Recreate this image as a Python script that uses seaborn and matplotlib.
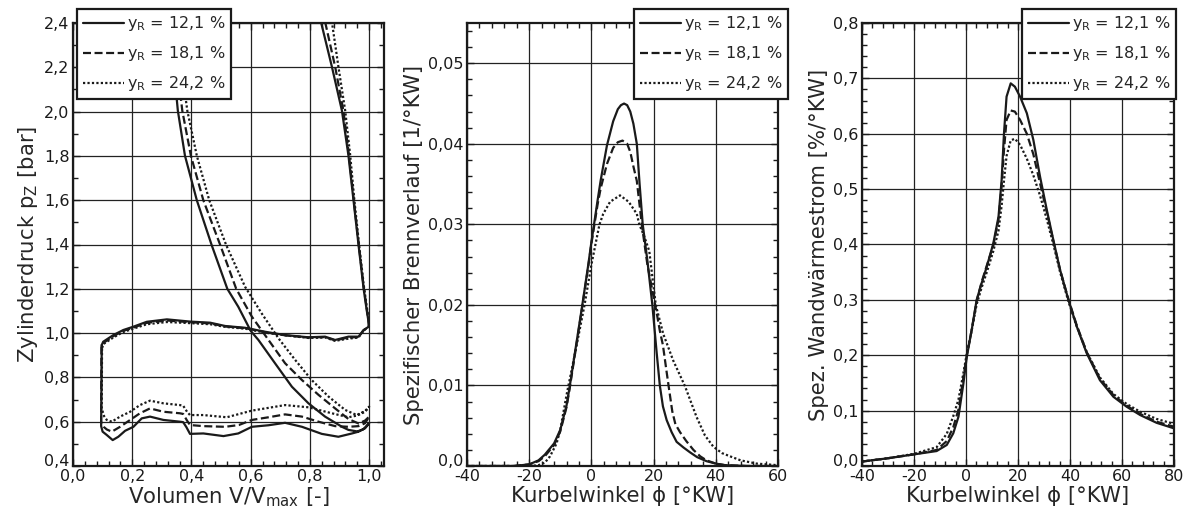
import numpy as np
import pandas as pd
import matplotlib
matplotlib.use("Agg")
import matplotlib.pyplot as plt
from matplotlib.ticker import FixedLocator, MultipleLocator, FixedFormatter
from matplotlib.transforms import ScaledTranslation
import seaborn as sns

sns.set_theme(style="ticks")
plt.rcParams['font.family'] = ['DejaVu Sans']
plt.rcParams['mathtext.default'] = 'regular'

series_labels = ["$y_R$ = 12,1 %", "$y_R$ = 18,1 %", "$y_R$ = 24,2 %"]

# ---------------- Panel 1: p-V diagram ----------------
pv_V_121 = [0.097, 0.095, 0.100, 0.114, 0.134, 0.153, 0.176, 0.204, 0.232, 0.260, 0.305, 0.361, 0.372, 0.383, 0.395,
            0.440, 0.508, 0.558, 0.604, 0.660, 0.716, 0.773, 0.840, 0.896, 0.942, 0.964, 0.986, 1.000,
            0.980, 0.960, 0.930, 0.908, 0.851, 0.795, 0.739, 0.682, 0.626, 0.600, 0.558, 0.521, 0.468, 0.418, 0.378,
            0.354, 0.340, 0.325, 0.310,
            0.820, 0.837, 0.874, 0.908, 0.930, 0.947, 0.964, 0.981, 0.992, 0.998, 0.999,
            0.981, 0.964, 0.930, 0.885, 0.851, 0.795, 0.716, 0.649, 0.581, 0.514, 0.463, 0.395, 0.317, 0.249,
            0.204, 0.170, 0.136, 0.102, 0.097]
pv_p_121 = [0.946, 0.580, 0.555, 0.540, 0.517, 0.532, 0.559, 0.577, 0.615, 0.623, 0.608, 0.600, 0.598, 0.575, 0.545,
            0.547, 0.535, 0.547, 0.577, 0.584, 0.595, 0.577, 0.545, 0.532, 0.547, 0.555, 0.570, 0.593,
            0.566, 0.556, 0.563, 0.577, 0.623, 0.683, 0.758, 0.864, 0.969, 1.010, 1.119, 1.200, 1.398, 1.600, 1.801,
            2.004, 2.200, 2.400, 2.600,
            2.600, 2.406, 2.203, 2.004, 1.801, 1.600, 1.398, 1.202, 1.100, 1.050, 1.029,
            1.014, 0.984, 0.984, 0.969, 0.984, 0.981, 0.991, 1.006, 1.024, 1.032, 1.047, 1.052, 1.062, 1.051,
            1.029, 1.014, 0.991, 0.961, 0.946]

pv_V_181 = [0.096, 0.095, 0.105, 0.114, 0.131, 0.159, 0.193, 0.226, 0.260, 0.305, 0.361, 0.372, 0.385, 0.395,
            0.440, 0.514, 0.560, 0.604, 0.660, 0.716, 0.773, 0.829, 0.885, 0.930, 0.964, 0.986, 1.000,
            0.986, 0.964, 0.930, 0.885, 0.829, 0.773, 0.716, 0.660, 0.604, 0.551, 0.497, 0.440, 0.398, 0.369,
            0.352, 0.338, 0.325,
            0.835, 0.851, 0.885, 0.913, 0.932, 0.948, 0.965, 0.982, 0.993, 0.998, 0.999,
            0.981, 0.964, 0.930, 0.885, 0.851, 0.795, 0.716, 0.649, 0.581, 0.514, 0.463, 0.395, 0.317, 0.249,
            0.204, 0.170, 0.136, 0.102, 0.096]
pv_p_181 = [0.940, 0.600, 0.575, 0.565, 0.555, 0.577, 0.608, 0.638, 0.660, 0.645, 0.638, 0.635, 0.605, 0.585,
            0.580, 0.577, 0.585, 0.608, 0.620, 0.633, 0.623, 0.600, 0.580, 0.577, 0.580, 0.593, 0.623,
            0.605, 0.592, 0.612, 0.660, 0.721, 0.788, 0.864, 0.969, 1.074, 1.200, 1.398, 1.600, 1.801, 2.004,
            2.200, 2.400, 2.600,
            2.600, 2.406, 2.203, 2.004, 1.801, 1.600, 1.398, 1.202, 1.100, 1.050, 1.029,
            1.012, 0.982, 0.980, 0.967, 0.982, 0.980, 0.990, 1.004, 1.022, 1.030, 1.044, 1.049, 1.057, 1.046,
            1.025, 1.010, 0.986, 0.955, 0.940]

pv_V_242 = [0.098, 0.097, 0.105, 0.114, 0.131, 0.159, 0.193, 0.226, 0.260, 0.305, 0.361, 0.372, 0.385, 0.395,
            0.440, 0.519, 0.604, 0.716, 0.795, 0.874, 0.930, 0.960, 0.986, 1.000,
            0.986, 0.958, 0.919, 0.863, 0.806, 0.750, 0.694, 0.637, 0.581, 0.517, 0.460, 0.418, 0.386,
            0.366, 0.350, 0.336,
            0.855, 0.874, 0.896, 0.919, 0.936, 0.950, 0.966, 0.983, 0.994, 0.999, 0.999,
            0.980, 0.964, 0.930, 0.885, 0.851, 0.795, 0.716, 0.649, 0.581, 0.514, 0.463, 0.395, 0.317, 0.249,
            0.204, 0.170, 0.136, 0.102, 0.098]
pv_p_242 = [0.930, 0.660, 0.625, 0.608, 0.600, 0.623, 0.645, 0.675, 0.695, 0.683, 0.675, 0.672, 0.645, 0.630,
            0.630, 0.620, 0.650, 0.675, 0.665, 0.638, 0.620, 0.628, 0.645, 0.668,
            0.648, 0.630, 0.653, 0.713, 0.788, 0.879, 0.976, 1.089, 1.209, 1.398, 1.600, 1.801, 2.004,
            2.200, 2.400, 2.600,
            2.600, 2.406, 2.203, 2.004, 1.801, 1.600, 1.398, 1.202, 1.100, 1.050, 1.030,
            1.010, 0.980, 0.975, 0.965, 0.980, 0.978, 0.990, 1.002, 1.020, 1.028, 1.040, 1.045, 1.050, 1.040,
            1.020, 1.005, 0.980, 0.950, 0.930]

# ---------------- Panel 2: Brennverlauf ----------------
bv_phi_121 = [-40, -25, -20, -17, -15, -12, -10, -8, -7, -5, -3, -1, 0, 2, 3, 5, 7, 8.5, 9.5, 10.5, 11.5, 12.5,
              13.5, 14.6, 15.5, 16.5, 18, 19.6, 21, 22, 23, 24.2, 25.8, 27.4, 29.6, 31.7, 34, 37, 40, 43, 50, 60]
bv_val_121 = [0, 0, 0.0002, 0.0007, 0.0014, 0.0028, 0.0045, 0.0075, 0.0098, 0.0148, 0.0198, 0.0250, 0.0278,
              0.0330, 0.0355, 0.0398, 0.0428, 0.0443, 0.0448, 0.0450, 0.0448, 0.0440, 0.0425, 0.0400, 0.0350,
              0.0300, 0.0255, 0.0200, 0.0140, 0.0100, 0.0074, 0.0057, 0.0042, 0.0030, 0.0023, 0.0017, 0.0011,
              0.0006, 0.0003, 0.0001, 0, 0]
bv_phi_181 = [-40, -25, -20, -17, -15, -12, -10, -8, -7, -5, -3, -1, 0, 2, 3, 5, 7, 8.5, 10, 11.5, 12.5, 13.5,
              14.6, 16.2, 18, 20, 21, 22, 23, 24, 24.8, 26, 27, 28.5, 30.5, 32.8, 35, 37, 40, 43, 50, 60]
bv_val_181 = [0, 0, 0.0002, 0.0006, 0.0012, 0.0026, 0.0043, 0.0073, 0.0096, 0.0146, 0.0196, 0.0248, 0.0276,
              0.0325, 0.0345, 0.0375, 0.0395, 0.0402, 0.0404, 0.0400, 0.0390, 0.0372, 0.0354, 0.0300, 0.0250,
              0.0210, 0.0190, 0.0168, 0.0150, 0.0122, 0.0100, 0.0068, 0.0052, 0.0042, 0.0031, 0.0020, 0.0012,
              0.0007, 0.0003, 0.0001, 0, 0]
bv_phi_242 = [-40, -20, -17, -15, -13.3, -11.2, -10, -8, -5, -2.2, 0, 2.6, 3.8, 6, 9.2, 12, 14.6, 15.4, 17, 18.6,
              20.7, 23.1, 26.3, 30.1, 33.8, 36.5, 39.2, 42, 44.6, 48, 53.1, 60]
bv_val_242 = [0, 0, 0.0001, 0.0004, 0.0012, 0.0028, 0.0045, 0.0088, 0.0145, 0.0200, 0.0250, 0.0300, 0.0313,
              0.0328, 0.0336, 0.0328, 0.0313, 0.0300, 0.0285, 0.0267, 0.0200, 0.0164, 0.0131, 0.0099, 0.0061,
              0.0038, 0.0024, 0.0016, 0.0012, 0.0007, 0.0003, 0.0001]

# ---------------- Panel 3: Wandwaermestrom ----------------
ww_phi = [-40, -30, -20, -11.3, -7.4, -4.9, -2.9, -1.0, 0.3, 2.2, 4.1, 6.0, 8.0, 10.5, 12.5, 13.7, 14.6, 15.6,
          17.2, 18.8, 20.8, 23.4, 25.9, 28.5, 31.1, 33.6, 36.2, 39.4, 42.6, 46.4, 51.5, 56.7, 61.8, 67.0, 73.3, 80]
ww_val_121 = [0.008, 0.014, 0.021, 0.027, 0.038, 0.059, 0.089, 0.149, 0.197, 0.246, 0.300, 0.330, 0.360, 0.402,
              0.450, 0.516, 0.600, 0.667, 0.691, 0.685, 0.667, 0.637, 0.589, 0.522, 0.462, 0.408, 0.354, 0.300,
              0.252, 0.204, 0.155, 0.125, 0.107, 0.092, 0.078, 0.068]
ww_val_181 = [0.008, 0.014, 0.021, 0.029, 0.045, 0.070, 0.102, 0.160, 0.200, 0.246, 0.298, 0.332, 0.362, 0.398,
              0.445, 0.505, 0.570, 0.625, 0.642, 0.640, 0.625, 0.600, 0.563, 0.510, 0.458, 0.406, 0.354, 0.301,
              0.254, 0.206, 0.158, 0.128, 0.109, 0.094, 0.080, 0.071]
ww_val_242 = [0.008, 0.014, 0.022, 0.034, 0.058, 0.090, 0.120, 0.168, 0.203, 0.245, 0.292, 0.322, 0.350, 0.388,
              0.425, 0.470, 0.515, 0.560, 0.588, 0.591, 0.580, 0.555, 0.525, 0.488, 0.445, 0.400, 0.350, 0.297,
              0.252, 0.206, 0.160, 0.130, 0.112, 0.098, 0.085, 0.076]

# tick definitions
pv_xticks = [0.0, 0.2, 0.4, 0.6, 0.8, 1.0]
pv_xticklabels = ["0,0", "0,2", "0,4", "0,6", "0,8", "1,0"]
pv_yticks = [0.4, 0.6, 0.8, 1.0, 1.2, 1.4, 1.6, 1.8, 2.0, 2.2, 2.4]
pv_yticklabels = ["0,4", "0,6", "0,8", "1,0", "1,2", "1,4", "1,6", "1,8", "2,0", "2,2", "2,4"]
bv_xticks = [-40, -20, 0, 20, 40, 60]
bv_xticklabels = ["-40", "-20", "0", "20", "40", "60"]
bv_yticks = [0.0, 0.01, 0.02, 0.03, 0.04, 0.05]
bv_yticklabels = ["0,0", "0,01", "0,02", "0,03", "0,04", "0,05"]
ww_xticks = [-40, -20, 0, 20, 40, 60, 80]
ww_xticklabels = ["-40", "-20", "0", "20", "40", "60", "80"]
ww_yticks = [0.0, 0.1, 0.2, 0.3, 0.4, 0.5, 0.6, 0.7, 0.8]
ww_yticklabels = ["0,0", "0,1", "0,2", "0,3", "0,4", "0,5", "0,6", "0,7", "0,8"]

styles = ["-", (0, (3.6, 1.6)), (0, (1.0, 1.0))]
LW = 1.6

fig = plt.figure(figsize=(11.88, 5.23), dpi=100)
ax1 = fig.add_axes([73/1188, 1-466/523, 311/1188, 443/523])
ax2 = fig.add_axes([467/1188, 1-466/523, 311/1188, 443/523])
ax3 = fig.add_axes([862/1188, 1-466/523, 312/1188, 443/523])

pv_data = [(pv_V_121, pv_p_121), (pv_V_181, pv_p_181), (pv_V_242, pv_p_242)]
for (v, p), ls, lab in zip(pv_data, styles, series_labels):
    sns.lineplot(x=v, y=p, sort=False, estimator=None, ax=ax1, color='k', lw=LW, linestyle=ls, label=lab)

bv_data = [(bv_phi_121, bv_val_121), (bv_phi_181, bv_val_181), (bv_phi_242, bv_val_242)]
for (x, y), ls, lab in zip(bv_data, styles, series_labels):
    sns.lineplot(x=x, y=y, sort=False, estimator=None, ax=ax2, color='k', lw=LW, linestyle=ls, label=lab)

for y, ls, lab in zip([ww_val_121, ww_val_181, ww_val_242], styles, series_labels):
    sns.lineplot(x=ww_phi, y=y, sort=False, estimator=None, ax=ax3, color='k', lw=LW, linestyle=ls, label=lab)

def style_ax(ax, xlim, ylim, xt, xtl, yt, ytl, xminor, yminor, xlabel, ylabel):
    ax.set_xlim(*xlim)
    ax.set_ylim(*ylim)
    ax.xaxis.set_major_locator(FixedLocator(xt))
    ax.xaxis.set_major_formatter(FixedFormatter(xtl))
    ax.yaxis.set_major_locator(FixedLocator(yt))
    ax.yaxis.set_major_formatter(FixedFormatter(ytl))
    ax.xaxis.set_minor_locator(MultipleLocator(xminor))
    ax.yaxis.set_minor_locator(MultipleLocator(yminor))
    ax.grid(True, which='major', color='#222222', lw=0.9)
    ax.set_axisbelow(True)
    ax.tick_params(which='both', direction='in', top=True, right=True, colors='k',
                   labelsize=11.5, pad=2.5)
    ax.tick_params(which='major', length=5, width=1)
    ax.tick_params(which='minor', length=3.5, width=1)
    for s in ax.spines.values():
        s.set_color('k')
        s.set_linewidth(1.6)
    ax.set_xlabel(xlabel, fontsize=15.3, labelpad=1)
    ax.set_ylabel(ylabel, fontsize=15.3, labelpad=3)
    ax.set_facecolor('white')
    # lift the lowest y tick label a little, as in the reference corner
    t0 = ax.yaxis.get_major_ticks()[0]
    t0.label1.set_transform(t0.label1.get_transform() + ScaledTranslation(0, 0.06, fig.dpi_scale_trans))

style_ax(ax1, (0, 1.05), (0.4, 2.4), pv_xticks, pv_xticklabels, pv_yticks, pv_yticklabels, 0.04, 0.1,
         "Volumen V/$V_{max}$ [-]", "Zylinderdruck $p_Z$ [bar]")
style_ax(ax2, (-40, 60), (0, 0.055), bv_xticks, bv_xticklabels, bv_yticks, bv_yticklabels, 4, 0.002,
         "Kurbelwinkel ϕ [°KW]", "Spezifischer Brennverlauf [1/°KW]")
style_ax(ax3, (-40, 80), (0, 0.8), ww_xticks, ww_xticklabels, ww_yticks, ww_yticklabels, 4, 0.02,
         "Kurbelwinkel ϕ [°KW]", "Spez. Wandwärmestrom [%/°KW]")

def legend(ax, loc, anchor):
    lg = ax.legend(loc=loc, bbox_to_anchor=anchor, frameon=True, fancybox=False, framealpha=1,
                   edgecolor='k', fontsize=11.5, handlelength=2.6, handletextpad=0.15, borderpad=0.35,
                   labelspacing=0.68, borderaxespad=0)
    lg.get_frame().set_linewidth(1.6)
    lg.set_zorder(10)

legend(ax1, 'upper left', (0.013, 1.032))
legend(ax2, 'upper right', (1.032, 1.032))
legend(ax3, 'upper right', (1.006, 1.032))

fig.savefig("out.png", dpi=100, facecolor='white')
